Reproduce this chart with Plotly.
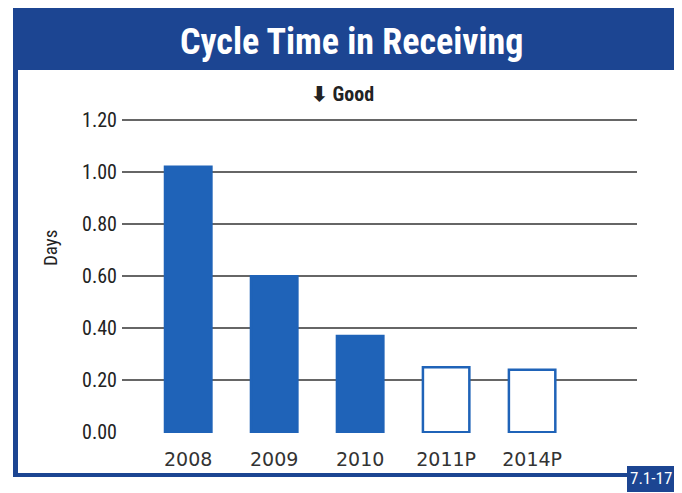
import plotly.graph_objects as go

categories = ["2008", "2009", "2010", "2011P", "2014P"]
days = [1.02, 0.60, 0.37, 0.25, 0.24]
projected = [False, False, False, True, True]
y_ticks = [0.0, 0.2, 0.4, 0.6, 0.8, 1.0, 1.2]
y_tick_labels = ["0.00", "0.20", "0.40", "0.60", "0.80", "1.00", "1.20"]

OFF = 8  # page body margin
W, H = 682 - OFF, 493 - OFF
# plot area in screenshot pixels
SL, SR, ST, SB = 122, 637, 119, 433
L, R, T, B = SL - OFF, SR - OFF, ST - OFF, SB - OFF


def px(x):
    return (x - SL) / (SR - SL)


def py(y):
    return (SB - y) / (SB - ST)


BLUE = "#1c4592"
BAR = "#1f63b8"
COND = "Roboto Condensed, Liberation Sans Narrow, Roboto, sans-serif"

fig = go.Figure()
fig.add_trace(go.Bar(
    x=categories,
    y=days,
    width=0.54,
    marker=dict(
        color=["white" if p else BAR for p in projected],
        line=dict(color=BAR, width=2.5),
    ),
    hoverinfo="skip",
))

shapes = [
    dict(type="rect", xref="paper", yref="paper", layer="below",
         x0=px(13), x1=px(700), y0=py(477), y1=py(0),
         fillcolor=BLUE, line=dict(width=0)),
    dict(type="rect", xref="paper", yref="paper", layer="below",
         x0=px(18), x1=px(676), y0=py(473), y1=py(70),
         fillcolor="white", line=dict(width=0)),
    dict(type="rect", xref="paper", yref="paper", layer="below",
         x0=px(676), x1=px(700), y0=py(478), y1=py(70),
         fillcolor="#f4f5f8", line=dict(width=0)),
    dict(type="line", xref="paper", yref="paper", layer="below",
         x0=px(677), x1=px(677), y0=py(473), y1=py(70),
         line=dict(color="#d0d4dc", width=1.5)),
    dict(type="rect", xref="paper", yref="paper", layer="above",
         x0=px(627), x1=px(700), y0=py(492), y1=py(466),
         fillcolor=BLUE, line=dict(width=0)),
]

annotations = [
    dict(text="<b>Cycle Time in Receiving</b>", xref="paper", yref="paper",
         x=px(351), y=py(42), showarrow=False,
         font=dict(family=COND, size=36, color="white"),
         xanchor="center", yanchor="middle"),
    dict(text="<b>⬇ Good</b>", xref="paper", yref="paper",
         x=px(342), y=py(94), showarrow=False,
         font=dict(family=COND, size=20, color="#222"),
         xanchor="center", yanchor="middle"),
    dict(text="Days", xref="paper", yref="paper",
         x=px(50), y=py(248), showarrow=False, textangle=-90,
         font=dict(family=COND, size=19, color="#222"),
         xanchor="center", yanchor="middle"),
    dict(text="7.1-17", xref="paper", yref="paper",
         x=px(651), y=py(478), showarrow=False,
         font=dict(family=COND, size=17, color="white"),
         xanchor="center", yanchor="middle"),
]

fig.update_layout(
    width=W, height=H,
    margin=dict(l=L, r=W - R, t=T, b=H - B, pad=0),
    paper_bgcolor="white",
    plot_bgcolor="rgba(0,0,0,0)",
    showlegend=False,
    shapes=shapes,
    annotations=annotations,
)
fig.update_xaxes(
    type="category",
    range=[-0.77, 5.22],
    showgrid=False, zeroline=False, showline=False,
    ticks="", ticklabelstandoff=13,
    tickfont=dict(family="DejaVu Sans, sans-serif", size=19, color="#333"),
)
fig.update_yaxes(
    range=[-0.003, 1.204],
    tickvals=y_ticks, ticktext=y_tick_labels,
    showgrid=True, gridcolor="#666", gridwidth=1.5,
    zeroline=False, showline=False, ticks="",
    ticklabelstandoff=4,
    tickfont=dict(family=COND, size=20, color="#222"),
)

fig.write_html("out.html")
